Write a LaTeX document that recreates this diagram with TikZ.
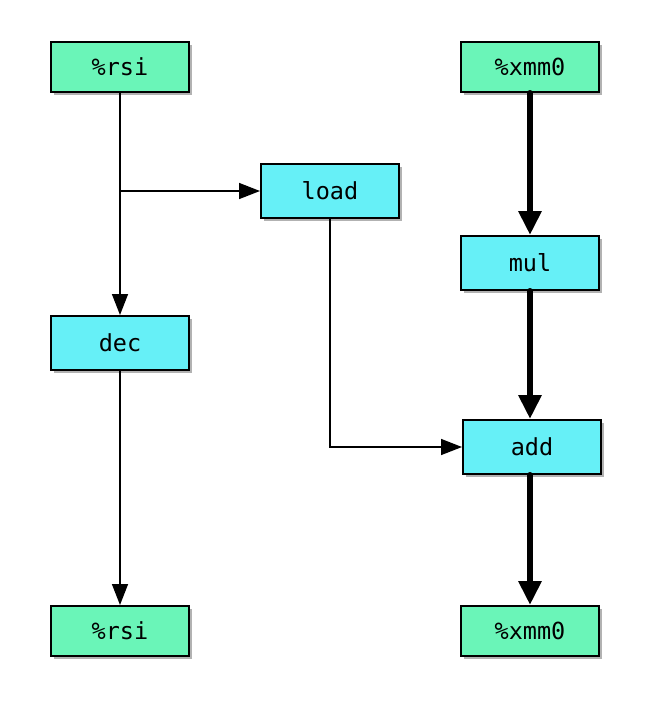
\documentclass[tikz,border=0pt]{standalone}
\usepackage{fontspec}
\setmonofont{DejaVu Sans Mono}
\usetikzlibrary{arrows.meta,shadows}
\definecolor{regc}{HTML}{6AF5B8}
\definecolor{opc}{HTML}{66F0F7}
\tikzset{
  base/.style={draw=black, line width=2pt, minimum width=138pt, font=\ttfamily\fontsize{23.5}{26}\selectfont,
    drop shadow={shadow xshift=3pt, shadow yshift=-3pt, opacity=0.3, fill=black}},
  reg/.style={base, fill=regc, minimum height=50pt},
  op/.style={base, fill=opc, minimum height=54pt},
  thin/.style={line width=1.5pt, -{Triangle[length=21pt,width=16pt]}},
  thick/.style={line width=6pt, line cap=round, -{Triangle[length=24pt,width=22pt]}}
}
\begin{document}
\begin{tikzpicture}[x=1pt,y=-1pt]
\useasboundingbox (0,0) rectangle (670,716);
\node[reg] (rsi1) at (120,67) {\%rsi};
\node[reg] (xmm1) at (530,67) {\%xmm0};
\node[op] (load) at (330,191) {load};
\node[op] (mul) at (530,263) {mul};
\node[op] (dec) at (120,343) {dec};
\node[op] (add) at (532,447) {add};
\node[reg] (rsi2) at (120,631) {\%rsi};
\node[reg] (xmm2) at (530,631) {\%xmm0};
\coordinate (br) at (rsi1.south |- load.west);
\draw[thin] (rsi1.south) -- (dec.north);
\draw[thin] (br) -- (load.west);
\draw[thin] (load.south) |- (add.west);
\draw[thin] (dec.south) -- (rsi2.north);
\draw[thick] (xmm1.south) -- (mul.north);
\draw[thick] (mul.south) -- (mul.south |- add.north);
\draw[thick] (mul.south |- add.south) -- (xmm2.north);
\end{tikzpicture}
\end{document}
